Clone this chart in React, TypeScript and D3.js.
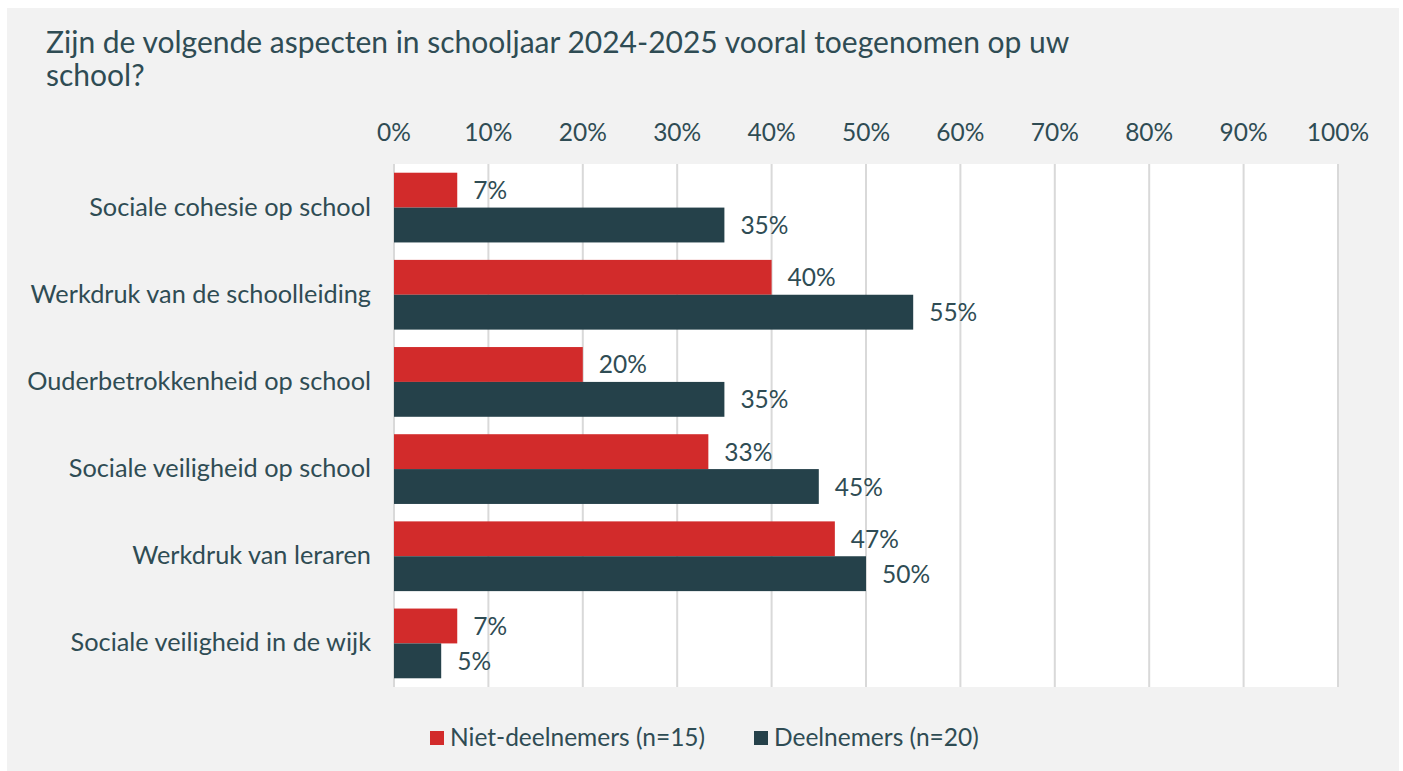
import React from "react";
import * as d3 from "d3";

const categories = [
  "Sociale cohesie op school",
  "Werkdruk van de schoolleiding",
  "Ouderbetrokkenheid op school",
  "Sociale veiligheid op school",
  "Werkdruk van leraren",
  "Sociale veiligheid in de wijk",
];
const nietDeelnemers = [6.7, 40, 20, 33.3, 46.7, 6.7];
const deelnemers = [35, 55, 35, 45, 50, 5];
const seriesNames = ["Niet-deelnemers (n=15)", "Deelnemers (n=20)"];
const tickValues = [0, 10, 20, 30, 40, 50, 60, 70, 80, 90, 100];

const W = 1403;
const H = 771;
const plot = { left: 394, right: 1338, top: 164, bottom: 687 };
const RED = "#d22b2b";
const DARK = "#25414a";
const TEXT = "#2f4c54";
const FONT = "Lato, 'Open Sans', sans-serif";
const FS = 24.5;
const FS_CAT = 25.3;

export default function App() {
  const x = d3.scaleLinear().domain([0, 100]).range([plot.left, plot.right]);
  const y = d3
    .scaleBand<string>()
    .domain(categories)
    .range([plot.top, plot.bottom])
    .paddingInner(0.2)
    .paddingOuter(0.1);
  const sub = d3
    .scaleBand<string>()
    .domain(["a", "b"])
    .range([0, y.bandwidth()]);
  const series = [
    { key: "a", name: seriesNames[0], color: RED, values: nietDeelnemers },
    { key: "b", name: seriesNames[1], color: DARK, values: deelnemers },
  ];

  return (
    <svg
      width={W}
      height={H}
      style={{ position: "absolute", left: 0, top: 0 }}
      fontFamily={FONT}
    >
      <rect x={0} y={0} width={W} height={H} fill="#ffffff" />
      <rect x={7} y={8} width={1392} height={H - 8} fill="#f2f2f2" />
      <text x={46} y={53} fontSize={30} fill={TEXT}>
        Zijn de volgende aspecten in schooljaar 2024-2025 vooral toegenomen op uw
      </text>
      <text x={46} y={86} fontSize={30} fill={TEXT}>
        school?
      </text>
      <rect
        x={plot.left}
        y={plot.top}
        width={plot.right - plot.left}
        height={plot.bottom - plot.top}
        fill="#ffffff"
      />
      {tickValues.map((t) => (
        <g key={t}>
          <line
            x1={x(t)}
            x2={x(t)}
            y1={plot.top}
            y2={plot.bottom}
            stroke="#d9d9d9"
            strokeWidth={2}
          />
          <text x={x(t)} y={141} fontSize={FS} fill={TEXT} textAnchor="middle">
            {t}%
          </text>
        </g>
      ))}
      {categories.map((c, i) => (
        <g key={c}>
          <text
            x={371}
            y={(y(c) as number) + y.bandwidth() / 2 + 8}
            fontSize={FS_CAT}
            fill={TEXT}
            textAnchor="end"
          >
            {c}
          </text>
          {series.map((s) => {
            const y0 = (y(c) as number) + (sub(s.key) as number);
            const v = s.values[i];
            return (
              <g key={s.key}>
                <rect
                  x={x(0)}
                  y={y0}
                  width={x(v) - x(0)}
                  height={sub.bandwidth()}
                  fill={s.color}
                />
                <text
                  x={x(v) + 16}
                  y={y0 + sub.bandwidth() / 2 + 9}
                  fontSize={FS}
                  fill={TEXT}
                >
                  {Math.round(v)}%
                </text>
              </g>
            );
          })}
        </g>
      ))}
      <g>
        <rect x={430} y={731} width={14} height={14} fill={RED} />
        <text x={450} y={746} fontSize={FS} fill={TEXT}>
          {seriesNames[0]}
        </text>
        <rect x={754} y={731} width={14} height={14} fill={DARK} />
        <text x={774} y={746} fontSize={FS} fill={TEXT}>
          {seriesNames[1]}
        </text>
      </g>
    </svg>
  );
}
